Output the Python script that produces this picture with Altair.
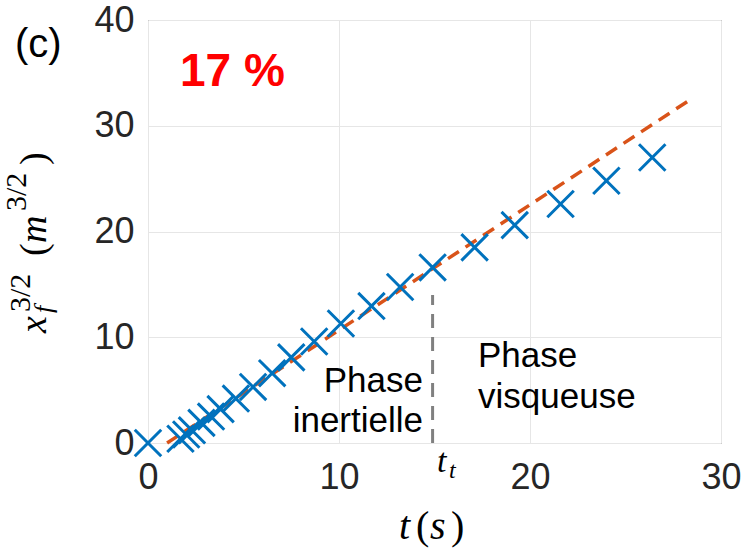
import altair as alt
import pandas as pd

# ---- data ----
t_vals = [0, 1.7, 2.0, 2.3, 2.8, 3.3, 3.8, 4.6, 5.5, 6.5, 7.5, 8.7, 10.1, 11.7,
          13.2, 14.9, 17.1, 19.2, 21.6, 24.0, 26.4]
x_vals = [0, 0.4, 0.8, 1.2, 1.9, 2.5, 3.2, 4.2, 5.3, 6.6, 8.1, 9.6, 11.3, 12.95,
          14.75, 16.6, 18.5, 20.6, 22.6, 24.8, 27.0]
fit_t = [1.0, 28.5]
fit_v = [0.0, 32.6]
t_trans = 14.9
t_trans_top = 14.0
x_ticks = [0, 10, 20, 30]
y_ticks = [0, 10, 20, 30, 40]

BLUE = "#0072BD"
ORANGE = "#D95319"
TXT = "#262626"

W, H = 573, 423
xs = alt.Scale(domain=[0, 30], nice=False)
ys = alt.Scale(domain=[0, 40], nice=False)

xax = alt.Axis(values=x_ticks, title=None, labelFont="Liberation Sans",
               labelFontSize=36, labelColor=TXT, ticks=False, domain=False,
               labelPadding=17, grid=True, gridColor="#e6e6e6", labelFlush=False)
yax = alt.Axis(values=y_ticks, title=None, labelFont="Liberation Sans",
               labelFontSize=36, labelColor=TXT, ticks=False, domain=False,
               labelPadding=14, grid=True, gridColor="#e6e6e6", labelFlush=False)

pts = pd.DataFrame({"t": t_vals, "v": x_vals})
fit = pd.DataFrame({"t": fit_t, "v": fit_v})
vline = pd.DataFrame({"t": [t_trans], "v": [0.0], "v2": [t_trans_top]})

scatter = alt.Chart(pts).mark_point(
    shape="M-1,-1L1,1M1,-1L-1,1", filled=False, stroke=BLUE, strokeWidth=3,
    size=700, opacity=1
).encode(x=alt.X("t:Q", scale=xs, axis=xax), y=alt.Y("v:Q", scale=ys, axis=yax))

fit_line = alt.Chart(fit).mark_line(
    color=ORANGE, strokeWidth=3.5, strokeDash=[13, 8]
).encode(x=alt.X("t:Q", scale=xs), y=alt.Y("v:Q", scale=ys))

rule = alt.Chart(vline).mark_rule(
    color="#808080", strokeWidth=3, strokeDash=[14, 9]
).encode(x=alt.X("t:Q", scale=xs), y=alt.Y("v:Q", scale=ys), y2="v2:Q")


def txt(label, x, y, size, font="Liberation Sans", style="normal",
        weight="normal", color="black", align="left", angle=0):
    return alt.Chart(pd.DataFrame({"label": [label]})).mark_text(
        font=font, fontSize=size, fontStyle=style, fontWeight=weight,
        color=color, align=align, baseline="alphabetic", angle=angle
    ).encode(x=alt.value(x), y=alt.value(y), text="label:N")


SERIF = "Liberation Serif"
annots = [
    txt("(c)", -133, 37, 40),
    txt("17 %", 32, 66, 46, weight="bold", color="#FF0000"),
    txt("Phase", 275, 372, 35, align="right"),
    txt("inertielle", 275, 412, 35, align="right"),
    txt("Phase", 330, 347, 35),
    txt("visqueuse", 330, 388, 35),
    txt("t", 289, 452, 34, font=SERIF, style="italic"),
    txt("t", 301, 458, 24, font=SERIF, style="italic"),
    # x-axis title t(s)
    txt("t", 251, 519, 40, font=SERIF, style="italic"),
    txt("(", 268, 519, 40, font=SERIF),
    txt("s", 282, 519, 40, font=SERIF, style="italic"),
    txt(")", 303, 519, 40, font=SERIF),
    # y-axis title x_f^{3/2}(m^{3/2}), rotated
    txt("x", -102, 313, 38, font=SERIF, style="italic", angle=270),
    txt("3/2", -118, 292, 30, font=SERIF, angle=270),
    txt("f", -96, 293, 26, font=SERIF, style="italic", angle=270),
    txt("(", -102, 236, 38, font=SERIF, angle=270),
    txt("m", -102, 223, 38, font=SERIF, style="italic", angle=270),
    txt("3/2", -122, 191, 30, font=SERIF, angle=270),
    txt(")", -102, 145, 38, font=SERIF, angle=270),
]

chart = alt.layer(fit_line, rule, scatter, *annots).properties(
    width=W, height=H,
    autosize=alt.AutoSizeParams(type="none"),
    padding={"left": 148, "top": 20, "right": 25, "bottom": 109},
    background="white",
).configure_view(stroke="#555555", strokeWidth=1)

chart.save("out.html", embed_options={"renderer": "svg", "actions": False})
